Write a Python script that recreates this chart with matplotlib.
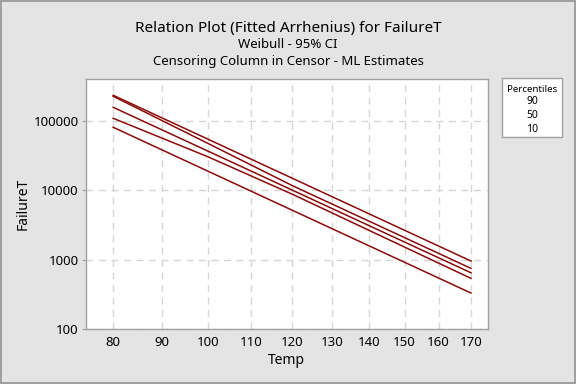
import numpy as np
import matplotlib
matplotlib.use('Agg')
import matplotlib.pyplot as plt
from matplotlib.patches import Rectangle
from matplotlib.ticker import FixedLocator, FixedFormatter, NullLocator

# ── Data ──────────────────────────────────────────────────────────────────────
# percentile lines are straight on the Arrhenius scale: read at the two ends
pct_temps = [80, 170]
p90 = [235600, 958]
p50 = [158000, 649]
p10 = [81400, 331]

# confidence bounds around the median bend, so read at a few temperatures
ci_temps = [80, 100, 120, 170]
ci_upper = [228000, 47900, 11700, 751]
ci_lower = [109700, 30700, 8800, 539]

xticks = [80, 90, 100, 110, 120, 130, 140, 150, 160, 170]
yticks = [100, 1000, 10000, 100000]
ytick_labels = ['100', '1000', '10000', '100000']
legend_title = 'Percentiles'
legend_labels = ['90', '50', '10']

BG = '#e4e4e4'
LINE = '#8b0a0a'
GRID = '#d6d6d6'
FRAME = '#a0a0a0'

plt.rcParams['font.family'] = ['Noto Sans', 'DejaVu Sans']

# Arrhenius x-scale: linear in -1/(T + 273.15)
def fwd(t):
    return -1.0 / (np.asarray(t, dtype=float) + 273.15)

def inv(u):
    return -1.0 / np.asarray(u, dtype=float) - 273.15

fig = plt.figure(figsize=(5.76, 3.84), dpi=100, facecolor=BG)
fig.patch.set_edgecolor(FRAME)
fig.patch.set_linewidth(1.5)
ax = fig.add_axes([0.149, 0.143, 0.698, 0.651])
ax.set_facecolor('white')

for series in (p90, p50, p10):
    ax.plot(pct_temps, series, color=LINE, linewidth=1.1)
for series in (ci_upper, ci_lower):
    ax.plot(ci_temps, series, color=LINE, linewidth=1.1)

ax.set_xscale('function', functions=(fwd, inv))
ax.set_yscale('log')
ax.set_xlim(74.6, 175.4)
ax.set_ylim(100, 403000)

ax.xaxis.set_major_locator(FixedLocator(xticks))
ax.xaxis.set_major_formatter(FixedFormatter([str(t) for t in xticks]))
ax.xaxis.set_minor_locator(NullLocator())
ax.yaxis.set_major_locator(FixedLocator(yticks))
ax.yaxis.set_major_formatter(FixedFormatter(ytick_labels))
ax.yaxis.set_minor_locator(NullLocator())

ax.grid(True, color=GRID, linestyle=(0, (5, 4)), linewidth=1.0)
ax.set_axisbelow(True)
for sp in ax.spines.values():
    sp.set_color(FRAME)
    sp.set_linewidth(1.0)
ax.tick_params(axis='x', length=0, pad=5, labelsize=9.5)
ax.tick_params(axis='y', length=3, color=FRAME, pad=2, labelsize=9.5)

ax.set_xlabel('Temp', fontsize=10, labelpad=3)
ax.set_ylabel('FailureT', fontsize=10, labelpad=2)

fig.text(0.5, 0.925, 'Relation Plot (Fitted Arrhenius) for FailureT',
         ha='center', va='center', fontsize=11)
fig.text(0.5, 0.883, 'Weibull - 95% CI', ha='center', va='center', fontsize=9.5)
fig.text(0.5, 0.841, 'Censoring Column in Censor - ML Estimates',
         ha='center', va='center', fontsize=9.5)

# ── Legend box ────────────────────────────────────────────────────────────────
fig.patches.append(Rectangle((0.8715, 0.643), 0.1042, 0.154,
                             transform=fig.transFigure, facecolor='white',
                             edgecolor=FRAME, linewidth=1.0))
fig.text(0.924, 0.766, legend_title, ha='center', va='center', fontsize=7)
for i, lab in enumerate(legend_labels):
    fig.text(0.924, 0.735 - i * 0.036, lab, ha='center', va='center', fontsize=7.5)

fig.savefig('out.png', dpi=100, facecolor=BG, edgecolor=FRAME)
